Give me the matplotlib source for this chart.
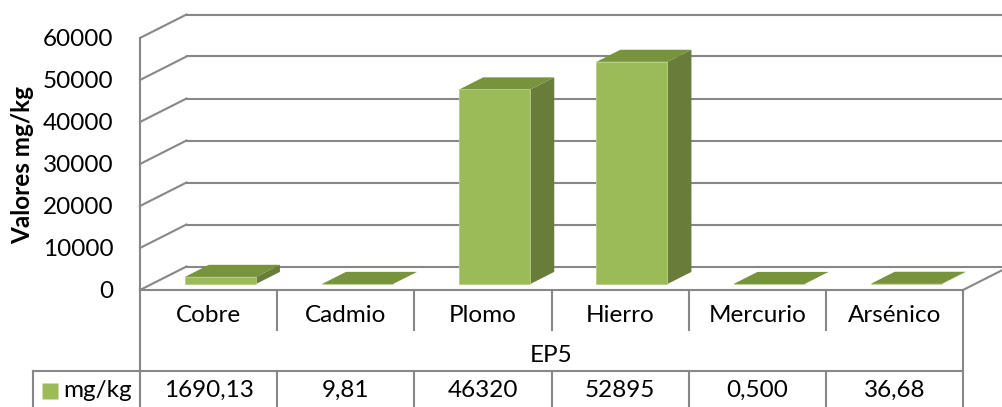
import matplotlib
matplotlib.use("Agg")
import matplotlib.pyplot as plt
from matplotlib.patches import Polygon, Rectangle

# contenido de metales, punto EP5
categories = ["Cobre", "Cadmio", "Plomo", "Hierro", "Mercurio", "Arsénico"]
values = [1690.13, 9.81, 46320, 52895, 0.500, 36.68]
value_labels = ["1690,13", "9,81", "46320", "52895", "0,500", "36,68"]
group_label = "EP5"
series_name = "mg/kg"
y_ticks = [0, 10000, 20000, 30000, 40000, 50000, 60000]

plt.rcParams["font.family"] = ["Lato", "DejaVu Sans"]

GRID = "#878787"
FRONT = "#9BBB59"
TOP = "#77933C"
SIDE = "#677D39"
LW = 1.5
FS = 17.5

W, H = 1002, 407
fig = plt.figure(figsize=(W / 100, H / 100), dpi=100)
fig.patch.set_facecolor("white")

# zona de trazado (plano frontal) en pixeles
x0_px, x1_px = 140, 963
y0_px, yt_px = 290, 38
n = len(categories)
ymax = y_ticks[-1]
cat_px = (x1_px - x0_px) / n
val_px = (y0_px - yt_px) / ymax

ax = fig.add_axes([x0_px / W, 1 - y0_px / H, (x1_px - x0_px) / W, (y0_px - yt_px) / H])
ax.set_xlim(0, n)
ax.set_ylim(0, ymax)
ax.set_facecolor("none")

# desplazamiento de profundidad (proyeccion oblicua)
DX = 46.5 / cat_px
DY = 23.5 / val_px
F0, DEPTH = 0.255, 0.515   # posicion y fondo de las columnas
BW = 0.518                  # ancho de columna

# paredes: lateral izquierda, fondo y suelo
for v in y_ticks:
    ax.plot([0, DX], [v, v + DY], color=GRID, lw=LW, clip_on=False, zorder=1)
    ax.plot([DX, n + DX], [v + DY, v + DY], color=GRID, lw=LW, clip_on=False, zorder=1)
ax.plot([n, n + DX], [0, DY], color=GRID, lw=LW, clip_on=False, zorder=1)

for side in ["top", "right"]:
    ax.spines[side].set_visible(False)
for side in ["left", "bottom"]:
    ax.spines[side].set_color(GRID)
    ax.spines[side].set_linewidth(LW)

ax.set_xticks([])
ax.set_yticks(y_ticks)
ax.set_yticklabels([str(v) for v in y_ticks], fontsize=FS)
ax.tick_params(axis="y", length=0, pad=19)

# columnas 3D
for i, v in enumerate(values):
    xl = i + 0.5 - BW / 2 + F0 * DX
    xr = xl + BW
    yb = F0 * DY
    yt = yb + v
    dxs, dys = DEPTH * DX, DEPTH * DY
    ax.add_patch(Polygon([(xr, yb), (xr + dxs, yb + dys), (xr + dxs, yt + dys), (xr, yt)],
                         closed=True, facecolor=SIDE, edgecolor="none", zorder=3, clip_on=False))
    ax.add_patch(Polygon([(xl, yt), (xr, yt), (xr + dxs, yt + dys), (xl + dxs, yt + dys)],
                         closed=True, facecolor=TOP, edgecolor="none", zorder=3, clip_on=False))
    if v > 0:
        ax.add_patch(Rectangle((xl, yb), BW, v, facecolor=FRONT, edgecolor="#B3CC82",
                               lw=0.6, zorder=4, clip_on=False))

fig.text(23 / W, 1 - 165 / H, "Valores mg/kg", rotation=90, ha="center", va="center",
         fontsize=FS, fontweight="bold")

# tabla de datos bajo el grafico
tx0_px, tb_px = 33, 411
ax_t = fig.add_axes([tx0_px / W, 1 - tb_px / H, (x1_px - tx0_px) / W, (tb_px - y0_px) / H])
xleft = -(x0_px - tx0_px) / cat_px
ax_t.set_xlim(xleft, n)
ax_t.set_ylim(3, 0)
ax_t.axis("off")

line_kw = dict(color=GRID, lw=LW, clip_on=False)
ax_t.plot([0, 0], [0, 3], **line_kw)
ax_t.plot([n, n], [0, 3], **line_kw)
for k in range(1, n):
    ax_t.plot([k, k], [0, 1], **line_kw)
    ax_t.plot([k, k], [2, 3], **line_kw)
ax_t.plot([xleft, n], [2, 2], **line_kw)
ax_t.plot([xleft, xleft], [2, 3], **line_kw)

for i, (cat, lab) in enumerate(zip(categories, value_labels)):
    ax_t.text(i + 0.5, 0.62, cat, ha="center", va="center", fontsize=FS)
    ax_t.text(i + 0.5, 2.5, lab, ha="center", va="center", fontsize=FS)
ax_t.text(n / 2, 1.62, group_label, ha="center", va="center", fontsize=FS)

ax_t.plot([xleft + 16.5 / cat_px], [2.5], marker="s", ms=11, color=FRONT, mec="none",
          clip_on=False)
ax_t.text(xleft + 30 / cat_px, 2.5, series_name, ha="left", va="center", fontsize=FS)

fig.savefig("out.png", dpi=100)
